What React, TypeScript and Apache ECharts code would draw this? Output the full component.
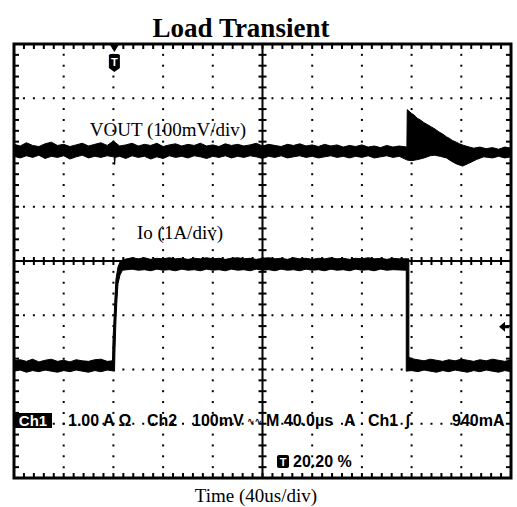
import React, { useEffect, useRef } from "react";
import * as echarts from "echarts";

// Screen: 10 horizontal divisions of 40 µs, 8 vertical divisions
const TIME_PER_DIV = 40; // µs
const X_DIVS = 10;
const Y_DIVS = 8;
const TRIGGER_T = 80.8; // µs (20.20 % of record)
const TRIGGER_LEVEL_DIV = -1.21; // 940 mA level marker (divisions)

// VOUT trace (100 mV/div) – upper and lower noise envelope, [time µs, divisions]
const voutTop: [number, number][] = [
  [0, 2.15], [5, 2.12], [10, 2.18], [15, 2.13], [20, 2.11], [25, 2.16], [30, 2.19], [35, 2.13],
  [40, 2.15], [45, 2.11], [50, 2.14], [55, 2.17], [60, 2.12], [65, 2.15], [70, 2.18], [75, 2.13],
  [80, 2.21], [85, 2.12], [90, 2.14], [95, 2.17], [100, 2.12], [105, 2.15], [110, 2.13],
  [115, 2.17], [120, 2.11], [125, 2.14], [130, 2.16], [135, 2.12], [140, 2.15], [145, 2.13],
  [150, 2.17], [155, 2.12], [160, 2.14], [165, 2.11], [170, 2.16], [175, 2.13], [180, 2.15],
  [185, 2.12], [190, 2.14], [195, 2.17], [200, 2.12], [205, 2.15], [210, 2.13], [215, 2.11],
  [220, 2.15], [225, 2.13], [230, 2.16], [235, 2.12], [240, 2.14], [245, 2.11], [250, 2.15],
  [255, 2.12], [260, 2.14], [265, 2.1], [270, 2.13], [275, 2.11], [280, 2.14], [285, 2.1],
  [290, 2.12], [295, 2.09], [300, 2.13], [305, 2.1], [310, 2.12], [316.2, 2.1],
  [316.5, 2.79], [318, 2.76], [320, 2.72], [322, 2.69], [324.7, 2.63], [327, 2.6], [330, 2.55],
  [333, 2.51], [336, 2.47], [339, 2.43], [342, 2.38], [345, 2.34], [348, 2.29], [350.5, 2.26],
  [353, 2.22], [356, 2.19], [358.6, 2.16], [362, 2.13], [366.6, 2.1], [370, 2.08], [375, 2.1],
  [380, 2.07], [385, 2.09], [390, 2.06], [395, 2.1], [400, 2.08],
];
const voutBottom: [number, number][] = [
  [0, 1.93], [5, 1.9], [10, 1.94], [15, 1.91], [20, 1.95], [25, 1.89], [30, 1.93], [35, 1.91],
  [40, 1.94], [45, 1.88], [50, 1.92], [55, 1.95], [60, 1.9], [65, 1.93], [70, 1.91], [75, 1.94],
  [80, 1.92], [80.6, 1.91], [81, 1.78], [81.4, 1.91], [85, 1.93], [90, 1.89], [95, 1.94],
  [100, 1.91], [105, 1.93], [110, 1.88], [115, 1.92], [120, 1.89], [125, 1.94], [130, 1.91],
  [135, 1.93], [140, 1.9], [145, 1.94], [150, 1.92], [155, 1.89], [160, 1.93], [165, 1.91],
  [170, 1.94], [175, 1.9], [180, 1.93], [185, 1.91], [190, 1.94], [195, 1.92], [200, 1.89],
  [205, 1.93], [210, 1.91], [215, 1.94], [220, 1.9], [225, 1.92], [230, 1.94], [235, 1.91],
  [240, 1.93], [245, 1.9], [250, 1.92], [255, 1.94], [260, 1.91], [265, 1.93], [270, 1.9],
  [275, 1.93], [280, 1.91], [285, 1.94], [290, 1.9], [295, 1.92], [300, 1.94], [305, 1.91],
  [310, 1.93], [316.5, 1.86], [320, 1.85], [325, 1.87], [330, 1.9], [335, 1.94], [338.4, 1.95],
  [343, 1.93], [348.1, 1.9], [352, 1.84], [356.1, 1.79], [361, 1.75], [366, 1.8], [372.2, 1.87],
  [378, 1.92], [385.1, 1.9], [390, 1.93], [395, 1.9], [400, 1.92],
];

// Io trace (1 A/div) – upper and lower envelope, [time µs, divisions]
const ioTop: [number, number][] = [
  [0, -1.84], [5, -1.82], [10, -1.85], [15, -1.81], [20, -1.86], [25, -1.83], [30, -1.81],
  [35, -1.85], [40, -1.83], [45, -1.86], [50, -1.82], [55, -1.84], [60, -1.85], [65, -1.82],
  [70, -1.81], [75, -1.85], [79.3, -1.84], [79.7, -1.44], [80.5, -1.07], [81.3, -0.66],
  [82.1, -0.33], [83.7, -0.11], [85.7, 0.0], [88.9, 0.03], [95, 0.06], [100, 0.04],
  [105, 0.06], [110, 0.03], [115, 0.05], [120, 0.04], [125, 0.06], [130, 0.04], [135, 0.05],
  [140, 0.03], [145, 0.05], [150, 0.04], [155, 0.06], [160, 0.04], [165, 0.05], [170, 0.03],
  [175, 0.05], [180, 0.06], [185, 0.04], [190, 0.05], [195, 0.03], [200, 0.05], [205, 0.06],
  [210, 0.04], [215, 0.05], [220, 0.03], [225, 0.06], [230, 0.04], [235, 0.05], [240, 0.03],
  [245, 0.05], [250, 0.04], [255, 0.06], [260, 0.04], [265, 0.05], [270, 0.03], [275, 0.05],
  [280, 0.04], [285, 0.06], [290, 0.04], [295, 0.05], [300, 0.03], [305, 0.05], [310, 0.04],
  [317.8, 0.04], [317.8, -1.77], [320, -1.8], [325, -1.82], [330, -1.84], [335, -1.81],
  [340, -1.83], [345, -1.85], [350, -1.82], [355, -1.84], [360, -1.81], [365, -1.83],
  [370, -1.85], [375, -1.82], [380, -1.84], [385, -1.81], [390, -1.83], [395, -1.85],
  [400, -1.82],
];
const ioBottom: [number, number][] = [
  [0, -2.03], [5, -2.01], [10, -2.05], [15, -2.02], [20, -2.04], [25, -2.01], [30, -2.03],
  [35, -2.05], [40, -2.02], [45, -2.04], [50, -2.01], [55, -2.03], [60, -2.05], [65, -2.02],
  [70, -2.04], [75, -2.01], [80.9, -2.03], [81.3, -1.62], [82.1, -1.07], [82.9, -0.7],
  [83.7, -0.42], [85.3, -0.26], [87.3, -0.17], [95, -0.15], [100, -0.17], [105, -0.16],
  [110, -0.18], [115, -0.15], [120, -0.17], [125, -0.16], [130, -0.18], [135, -0.15],
  [140, -0.17], [145, -0.16], [150, -0.18], [155, -0.15], [160, -0.17], [165, -0.16],
  [170, -0.18], [175, -0.15], [180, -0.17], [185, -0.16], [190, -0.18], [195, -0.15],
  [200, -0.17], [205, -0.16], [210, -0.18], [215, -0.15], [220, -0.17], [225, -0.16],
  [230, -0.18], [235, -0.15], [240, -0.17], [245, -0.16], [250, -0.18], [255, -0.15],
  [260, -0.17], [265, -0.16], [270, -0.18], [275, -0.15], [280, -0.17], [285, -0.16],
  [290, -0.18], [295, -0.15], [300, -0.17], [305, -0.16], [315.7, -0.17], [315.7, -2.03],
  [320, -2.02], [325, -2.04], [330, -2.01], [335, -2.03], [340, -2.05], [345, -2.02],
  [350, -2.04], [355, -2.01], [360, -2.03], [365, -2.05], [370, -2.02], [375, -2.04],
  [380, -2.01], [385, -2.03], [390, -2.05], [395, -2.02], [400, -2.04],
];

// Texts
const TITLE = "Load Transient";
const VOUT_LABEL = "VOUT (100mV/div)";
const IO_LABEL = "Io (1A/div)";
const X_LABEL = "Time (40us/div)";
const statusTokens: [string, number][] = [
  ["1.00 A Ω", 68],
  ["Ch2", 147],
  ["100mV", 192],
  ["M 40.0µs", 266],
  ["A", 344],
  ["Ch1", 368],
  ["ʃ", 405],
  ["940mA", 452],
];
const BW_ICON = "∿∿";
const TRIGGER_POS_TEXT = "20.20 %";

const X_MAX = TIME_PER_DIV * X_DIVS;
const Y_HALF = Y_DIVS / 2;

export default function App() {
  const ref = useRef<HTMLDivElement>(null);

  useEffect(() => {
    if (!ref.current) return;
    const chart = echarts.init(ref.current, null, { renderer: "svg" });

    const graticule = (params: any, api: any) => {
      const children: any[] = [];
      const p = (x: number, y: number) => api.coord([x, y]);
      const dot = (x: number, y: number) => {
        const c = p(x, y);
        children.push({
          type: "rect",
          shape: { x: c[0] - 1, y: c[1] - 1, width: 2, height: 2 },
          style: { fill: "#000" },
        });
      };
      const line = (x1: number, y1: number, x2: number, y2: number, w = 2) =>
        children.push({
          type: "line",
          shape: { x1, y1, x2, y2 },
          style: { stroke: "#000", lineWidth: w },
        });
      const minorX = TIME_PER_DIV / 5;
      for (let i = 1; i < X_DIVS; i++) {
        if (i === X_DIVS / 2) continue;
        for (let k = 1; k < Y_DIVS * 5; k++) dot(i * TIME_PER_DIV, -Y_HALF + k * 0.2);
      }
      for (let j = -Y_HALF + 1; j < Y_HALF; j++) {
        if (j === 0) continue;
        for (let k = 1; k < X_DIVS * 5; k++) dot(k * minorX, j);
      }
      const a = p(X_MAX / 2, -Y_HALF), b = p(X_MAX / 2, Y_HALF);
      line(a[0], a[1], b[0], b[1], 2);
      const c = p(0, 0), d = p(X_MAX, 0);
      line(c[0], c[1], d[0], d[1], 2);
      for (let k = 1; k < Y_DIVS * 5; k++) {
        const q = p(X_MAX / 2, -Y_HALF + k * 0.2);
        line(q[0] - 4, q[1], q[0] + 4, q[1], 2);
        const l = p(0, -Y_HALF + k * 0.2);
        line(l[0], l[1], l[0] + 5, l[1], 2);
        const r = p(X_MAX, -Y_HALF + k * 0.2);
        line(r[0] - 5, r[1], r[0], r[1], 2);
      }
      for (let k = 1; k < X_DIVS * 5; k++) {
        const q = p(k * minorX, 0);
        line(q[0], q[1] - 4, q[0], q[1] + 4, 2);
        const t = p(k * minorX, Y_HALF);
        line(t[0], t[1], t[0], t[1] + 5, 2);
        const bt = p(k * minorX, -Y_HALF);
        line(bt[0], bt[1] - 5, bt[0], bt[1], 2);
      }
      return { type: "group", children };
    };

    const trace = (top: [number, number][], bottom: [number, number][]) =>
      (params: any, api: any) => {
        const pts = [
          ...top.map((v) => api.coord(v)),
          ...bottom.slice().reverse().map((v) => api.coord(v)),
        ];
        return {
          type: "polygon",
          shape: { points: pts },
          style: { fill: "#000", stroke: "#000", lineWidth: 1, lineJoin: "miter" },
        };
      };

    chart.setOption({
      animation: false,
      backgroundColor: "#fff",
      grid: {
        left: 14,
        top: 44,
        width: 497,
        height: 434,
        show: true,
        borderColor: "#000",
        borderWidth: 3,
        backgroundColor: "transparent",
      },
      xAxis: {
        type: "value",
        min: 0,
        max: X_MAX,
        interval: TIME_PER_DIV,
        axisLine: { show: false },
        axisTick: { show: false },
        axisLabel: { show: false },
        splitLine: { show: false },
      },
      yAxis: {
        type: "value",
        min: -Y_HALF,
        max: Y_HALF,
        interval: 1,
        axisLine: { show: false },
        axisTick: { show: false },
        axisLabel: { show: false },
        splitLine: { show: false },
      },
      series: [
        { type: "custom", name: "graticule", renderItem: graticule, data: [[0, 0]], silent: true, z: 1 },
        { type: "custom", name: "VOUT", renderItem: trace(voutTop, voutBottom), data: [[0, 0]], z: 2 },
        { type: "custom", name: "Io", renderItem: trace(ioTop, ioBottom), data: [[0, 0]], z: 2 },
      ],
    });

    const trigX = chart.convertToPixel({ xAxisIndex: 0 }, TRIGGER_T) as number;
    const topY = chart.convertToPixel({ yAxisIndex: 0 }, Y_HALF) as number;
    const levelY = chart.convertToPixel({ yAxisIndex: 0 }, TRIGGER_LEVEL_DIV) as number;
    const rightX = chart.convertToPixel({ xAxisIndex: 0 }, X_MAX) as number;

    const serif = '"Liberation Serif", "Times New Roman", serif';
    const sans = '"Liberation Sans", Arial, "DejaVu Sans", sans-serif';
    const txt = (text: string, x: number, y: number, size: number, opts: any = {}) => ({
      type: "text",
      z: 10,
      style: {
        text,
        x,
        y,
        fontSize: size,
        fontFamily: opts.family || serif,
        fontWeight: opts.weight || "normal",
        fill: opts.fill || "#000",
        align: opts.align || "center",
        textAlign: opts.align || "center",
        verticalAlign: "middle",
        textVerticalAlign: "middle",
      },
    });

    chart.setOption({
      graphic: [
        txt(TITLE, 241, 28, 27, { weight: "bold" }),
        txt(VOUT_LABEL, 168, 129, 19),
        txt(IO_LABEL, 180, 232, 19),
        txt(X_LABEL, 256, 495, 19),
        { type: "rect", z: 10, shape: { x: 14, y: 413, width: 38, height: 15 }, style: { fill: "#000" } },
        txt("Ch1", 33, 420.5, 15, { family: sans, weight: "bold", fill: "#fff" }),
        ...statusTokens.map(([t, x]) => txt(t, x, 420.5, 16, { family: sans, weight: "bold", align: "left" })),
        txt(BW_ICON, 247, 420.5, 9, { family: '"DejaVu Sans", sans-serif', weight: "bold", align: "left" }),
        { type: "rect", z: 10, shape: { x: 277, y: 455, width: 12, height: 13, r: 2 }, style: { fill: "#000" } },
        txt("T", 283, 461.5, 11, { family: sans, weight: "bold", fill: "#fff" }),
        txt(TRIGGER_POS_TEXT, 293, 461.5, 16, { family: sans, weight: "bold", align: "left" }),
        {
          type: "polygon", z: 10,
          shape: { points: [[trigX - 5, topY], [trigX + 5, topY], [trigX, topY + 8]] },
          style: { fill: "#000" },
        },
        {
          type: "polygon", z: 10,
          shape: {
            points: [
              [trigX - 5.5, topY + 11], [trigX - 4, topY + 10], [trigX + 4, topY + 10], [trigX + 5.5, topY + 11],
              [trigX + 5.5, topY + 24], [trigX, topY + 28], [trigX - 5.5, topY + 24],
            ],
          },
          style: { fill: "#000" },
        },
        txt("T", trigX, topY + 18, 11, { family: sans, weight: "bold", fill: "#fff" }),
        {
          type: "polygon", z: 10,
          shape: {
            points: [
              [rightX - 12, levelY], [rightX - 6, levelY - 5], [rightX - 6, levelY - 1.5],
              [rightX - 2, levelY - 1.5], [rightX - 2, levelY + 1.5], [rightX - 6, levelY + 1.5],
              [rightX - 6, levelY + 5],
            ],
          },
          style: { fill: "#000" },
        },
      ],
    });

    return () => chart.dispose();
  }, []);

  return (
    <div
      ref={ref}
      style={{ position: "absolute", left: 0, top: 0, width: 517, height: 507, background: "#fff" }}
    />
  );
}
